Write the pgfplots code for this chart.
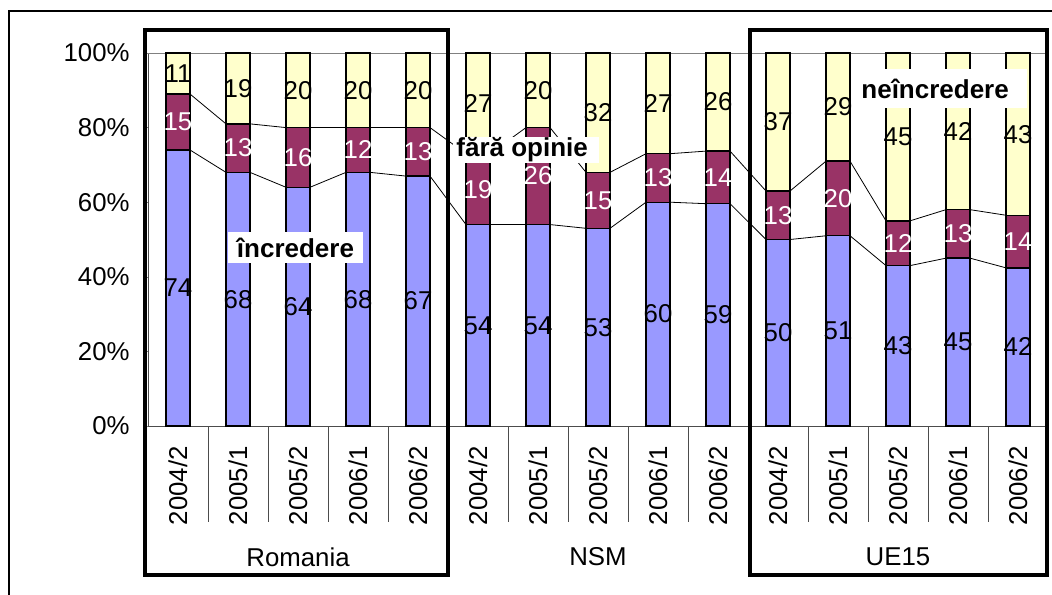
\documentclass[border=0pt]{standalone}
\usepackage{pgfplots}
\usepackage{pgfplotstable}
\pgfplotsset{compat=1.18}
\usepackage{fontspec}
\setmainfont{Liberation Sans}

\definecolor{incr}{HTML}{9999FF}
\definecolor{fara}{HTML}{993366}
\definecolor{neincr}{HTML}{FFFFCC}
\newcommand\cf{\fontsize{12.9}{15}\selectfont}
\newcommand\lbl{\fontsize{13}{15}\selectfont\bfseries}

% x = category; b = incredere, p = fara opinie, n = neincredere (shares of 100)
% bl, pl, nl = printed values (two rows sum to 99 and are scaled to 100)
\pgfplotstableread{
x  b     p     n     bl pl nl
0  74    15    11    74 15 11
1  68    13    19    68 13 19
2  64    16    20    64 16 20
3  68    12    20    68 12 20
4  67    13    20    67 13 20
5  54    19    27    54 19 27
6  54    26    20    54 26 20
7  53    15    32    53 15 32
8  60    13    27    60 13 27
9  59.6  14.1  26.3  59 14 26
10 50    13    37    50 13 37
11 51    20    29    51 20 29
12 43    12    45    43 12 45
13 45    13    42    45 13 42
14 42.4  14.1  43.5  42 14 43
}\data

\pgfplotsset{
  frame/.style={
    at={(1.5pt,0)}, anchor=south west, scale only axis,
    width=450pt, height=186.5pt,
    xmin=-0.5, xmax=14.5, ymin=0, ymax=100,
    enlargelimits=false,
  },
  vals/.style={draw=none, forget plot,
    point meta=explicit symbolic,
    nodes near coords={\pgfplotspointmeta},
    every node near coord/.append style={anchor=center, inner sep=0pt, font=\cf}},
}

\begin{document}
\begin{tikzpicture}[font=\cf]
% series lines (Excel joins the segment tops of neighbouring bars)
\begin{axis}[frame, hide axis]
\addplot[black, line width=0.4pt] coordinates {
 (-0.2,74)(0.2,74)(0.8,68)(1.2,68)(1.8,64)(2.2,64)(2.8,68)(3.2,68)(3.8,67)(4.2,67)
 (4.8,54)(5.2,54)(5.8,54)(6.2,54)(6.8,53)(7.2,53)(7.8,60)(8.2,60)(8.8,59.6)(9.2,59.6)
 (9.8,50)(10.2,50)(10.8,51)(11.2,51)(11.8,43)(12.2,43)(12.8,45)(13.2,45)(13.8,42.4)(14.2,42.4)
};
\addplot[black, line width=0.4pt] coordinates {
 (-0.2,89)(0.2,89)(0.8,81)(1.2,81)(1.8,80)(2.2,80)(2.8,80)(3.2,80)(3.8,80)(4.2,80)
 (4.8,73)(5.2,73)(5.8,80)(6.2,80)(6.8,68)(7.2,68)(7.8,73)(8.2,73)(8.8,73.7)(9.2,73.7)
 (9.8,63)(10.2,63)(10.8,71)(11.2,71)(11.8,55)(12.2,55)(12.8,58)(13.2,58)(13.8,56.5)(14.2,56.5)
};
\end{axis}

\begin{axis}[frame,
  ybar stacked, bar width=12pt,
  axis x line*=bottom, axis y line*=left,
  axis line style={-, gray!60!black},
  tick align=outside, major tick length=2.5pt,
  ytick pos=left, xtick pos=bottom,
  ytick={0,20,40,60,80,100},
  yticklabels={0\%,20\%,40\%,60\%,80\%,100\%},
  yticklabel style={anchor=east, inner sep=0pt, xshift=-6.5pt},
  xtick={0,...,14},
  xticklabels={2004/2,2005/1,2005/2,2006/1,2006/2,2004/2,2005/1,2005/2,2006/1,2006/2,2004/2,2005/1,2005/2,2006/1,2006/2},
  xtick style={draw=none},
  xticklabel style={yshift=-7.5pt, rotate=90, anchor=east, inner sep=0pt},
  clip=false,
]
\addplot[fill=incr, draw=black, line width=0.7pt] table[x=x, y=b] {\data};
\addplot[fill=fara, draw=black, line width=0.7pt] table[x=x, y=p] {\data};
\addplot[fill=neincr, draw=black, line width=0.7pt] table[x=x, y=n] {\data};
\draw[gray] (axis cs:-0.5,100) -- (axis cs:14.5,100);
\end{axis}

% value labels, centred in each segment
\begin{axis}[frame, hide axis, clip=false]
\addplot[vals] table[x=x, y expr=\thisrow{b}/2, meta=bl] {\data};
\addplot[vals, every node near coord/.append style={text=white}]
  table[x=x, y expr=\thisrow{b}+\thisrow{p}/2, meta=pl] {\data};
\addplot[vals] table[x=x, y expr=\thisrow{b}+\thisrow{p}+\thisrow{n}/2, meta=nl] {\data};
\end{axis}

% category separators below the axis
\foreach \k in {1,2,3,4,6,7,8,9,11,12,13,14}
  \draw[gray!60!black, line width=0.4pt] (1.5pt+30pt*\k,0pt) -- ++(0,-48pt);
\foreach \k in {5,10}
  \draw[gray!60!black, line width=0.4pt] (1.5pt+30pt*\k,0pt) -- ++(0,-74.5pt);

% group names
\node at (76.5pt,-65.5pt) {Romania};
\node at (226.5pt,-65.5pt) {NSM};
\node at (376.5pt,-65.5pt) {UE15};

% series names in white boxes
\fill[white] (41.5pt,81.5pt) rectangle (109pt,97pt);
\node[inner sep=0pt] at (75.25pt,89.25pt) {\lbl încredere};
\fill[white] (154pt,131.5pt) rectangle (227pt,144.5pt);
\node[anchor=west, inner sep=0pt] at (155.5pt,138pt) {\lbl fără opinie};
\fill[white] (356pt,159pt) rectangle (441pt,178.5pt);
\node[anchor=west, inner sep=0pt] at (358pt,168.75pt) {\lbl neîncredere};

% boxes round Romania and UE15
\draw[line width=2pt] (0pt,-74.5pt) rectangle (151.5pt,198pt);
\draw[line width=2pt] (302.5pt,-74.5pt) rectangle (451pt,198pt);

% chart frame
\draw[line width=1pt] (-68pt,-100pt) -- (-68pt,207.5pt) -- (470pt,207.5pt);

\pgfresetboundingbox
\path[use as bounding box] (-72.5pt,-84pt) rectangle (453.5pt,213pt);
\end{tikzpicture}
\end{document}
